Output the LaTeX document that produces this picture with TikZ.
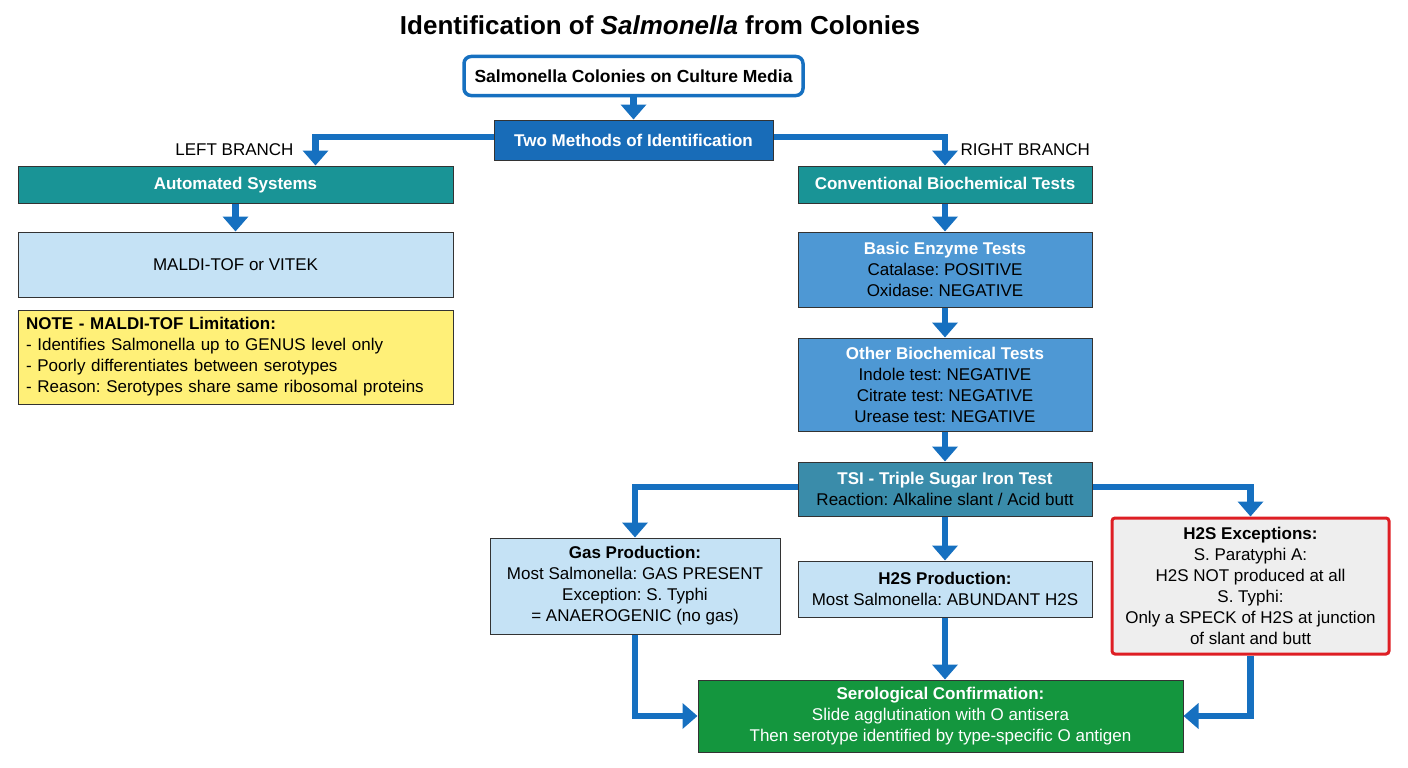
\documentclass[tikz,border=0pt]{standalone}
\usepackage{fontspec}
\setmainfont{Liberation Sans}
\usetikzlibrary{arrows.meta,positioning}
\definecolor{flowblue}{RGB}{22,112,192}
\definecolor{headblue}{RGB}{24,108,184}
\definecolor{tealhead}{RGB}{25,148,150}
\definecolor{midblue}{RGB}{78,152,212}
\definecolor{tsiblue}{RGB}{58,140,170}
\definecolor{paleblue}{RGB}{197,226,245}
\definecolor{noteyellow}{RGB}{255,240,120}
\definecolor{excgray}{RGB}{238,238,238}
\definecolor{excred}{RGB}{222,30,36}
\definecolor{serogreen}{RGB}{20,150,62}
\newcommand{\bodyfont}{\fontsize{17}{21}\selectfont}
\frenchspacing
\tikzset{
  box/.style={draw=black!80,line width=1pt,minimum width=#1,align=center,
    inner sep=4pt,font=\bodyfont},
  flow/.style={draw=flowblue,line width=6.5pt,
    -{Triangle[length=15pt,width=25pt]}}
}

\begin{document}
\begin{tikzpicture}[x=1pt,y=-1pt]
\useasboundingbox (0,0) rectangle (1408,768);
\node[font=\fontsize{26}{31}\selectfont\bfseries] (title) at (660,25)
  {Identification of \textit{Salmonella} from Colonies};
\node[draw=flowblue,line width=3.5pt,rounded corners=7pt,fill=white,
  minimum width=339pt,minimum height=39pt,font=\fontsize{17.5}{21}\selectfont\bfseries]
  (col) at (633.5,76) {Salmonella Colonies on Culture Media};
\node[box=279pt,fill=headblue,minimum height=40pt,text=white,font=\bodyfont\bfseries]
  (two) at (633.5,140) {Two Methods of Identification};
% left branch
\node[box=435pt,fill=tealhead,minimum height=37pt,text=white,font=\bodyfont\bfseries,
  text height=13pt,text depth=3pt]
  (auto) at (235.5,184.5) {Automated Systems};
\node[box=435pt,fill=paleblue,minimum height=65pt,below=28pt of auto]
  (maldi) {MALDI-TOF or VITEK};
\node[box=435pt,fill=noteyellow,minimum height=94pt,text width=419pt,align=left,
  below=12pt of maldi] (note)
  {\textbf{NOTE - MALDI-TOF Limitation:}\\
   - Identifies Salmonella up to GENUS level only\\
   - Poorly differentiates between serotypes\\
   - Reason: Serotypes share same ribosomal proteins};
% right branch
\node[box=294pt,fill=tealhead,minimum height=37pt,text=white,font=\bodyfont\bfseries,
  text height=13pt,text depth=3pt]
  (conv) at (945,184.5) {Conventional Biochemical Tests};
\node[box=294pt,fill=midblue,minimum height=75pt,below=28pt of conv] (enz)
  {\textcolor{white}{\bfseries Basic Enzyme Tests}\\
   Catalase: POSITIVE\\ Oxidase: NEGATIVE};
\node[box=294pt,fill=midblue,minimum height=93pt,below=30pt of enz] (other)
  {\textcolor{white}{\bfseries Other Biochemical Tests}\\
   Indole test: NEGATIVE\\ Citrate test: NEGATIVE\\ Urease test: NEGATIVE};
\node[box=294pt,fill=tsiblue,minimum height=54pt,below=30pt of other] (tsi)
  {\textcolor{white}{\bfseries TSI - Triple Sugar Iron Test}\\
   Reaction: Alkaline slant / Acid butt};
\node[box=294pt,fill=paleblue,minimum height=56pt,below=44pt of tsi] (h2s)
  {\textbf{H2S Production:}\\ Most Salmonella: ABUNDANT H2S};
\node[box=290pt,fill=paleblue,minimum height=96pt] (gas) at (635,586)
  {\textbf{Gas Production:}\\ Most Salmonella: GAS PRESENT\\
   Exception: S. Typhi\\ = ANAEROGENIC (no gas)};
\node[box=277pt,draw=excred,line width=3pt,rounded corners=3pt,fill=excgray,
  minimum height=136pt] (exc) at (1250.5,586)
  {\textbf{H2S Exceptions:}\\ S. Paratyphi A:\\ H2S NOT produced at all\\
   S. Typhi:\\ Only a SPECK of H2S at junction\\ of slant and butt};
\node[box=485pt,fill=serogreen,minimum height=72pt,text=white] (sero) at (940.5,716)
  {\textbf{Serological Confirmation:}\\ Slide agglutination with O antisera\\
   Then serotype identified by type-specific O antigen};
\node[anchor=east,font=\bodyfont] (lbl) at (297,150) {LEFT BRANCH};
\node[anchor=west,font=\bodyfont] (rbl) at (957,150) {RIGHT BRANCH};
% connectors
\draw[flow] (col) -- (two);
\draw[flow] ([yshift=3pt]two.west) -| ([xshift=80pt]auto.north);
\draw[flow] ([yshift=3pt]two.east) -| (conv);
\draw[flow] (auto) -- (maldi);
\draw[flow] (conv) -- (enz);
\draw[flow] (enz) -- (other);
\draw[flow] (other) -- (tsi);
\draw[flow] (tsi) -- (h2s);
\draw[flow] ([yshift=2pt]tsi.west) -| (gas);
\draw[flow] ([yshift=2pt]tsi.east) -| (exc);
\draw[flow] (h2s) -- (h2s |- sero.north);
\draw[flow] (gas) |- (sero);
\draw[flow] (exc) |- (sero);
\end{tikzpicture}
\end{document}
